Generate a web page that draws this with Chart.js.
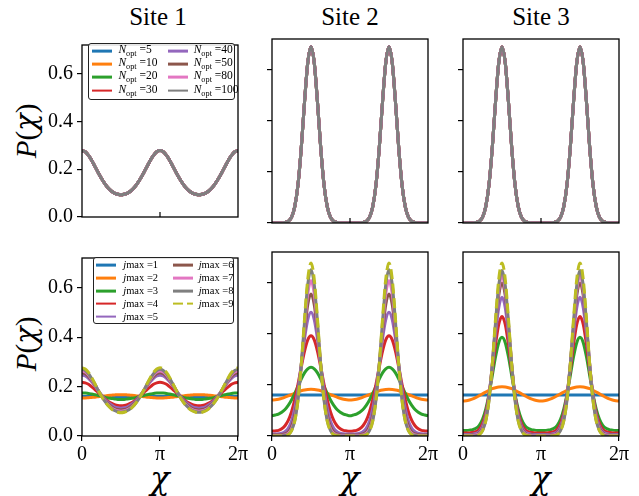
<!DOCTYPE html>
<html lang="en">
<head>
<meta charset="UTF-8">
<title>P(chi) per site</title>
<script src="https://cdn.jsdelivr.net/npm/chart.js"></script>
<style>
  body { margin: 0; background: #fff; }
  #fig { position: relative; width: 639px; height: 496px; overflow: hidden;
         font-family: "Liberation Serif", serif; color: #000; }
  #fig canvas { position: absolute; }
  .lbl { position: absolute; white-space: nowrap; line-height: 1; }
  .title { font-size: 25px; transform: translate(-50%, -50%); }
  .ylab { font-size: 29px; transform: translate(-50%, -50%) rotate(-90deg); }
  .xlab { font-size: 32px; transform: translate(-50%, -50%); }
  .greek { font-family: "DejaVu Serif", serif; font-style: italic; }
  .legend { position: absolute; box-sizing: border-box; border: 1.3px solid #222;
            border-radius: 3px; background: rgba(255,255,255,0.85); }
  .legend .sw { position: absolute; width: 20px; height: 2.8px; transform: translateY(-50%); }
  .legend .tx { position: absolute; white-space: nowrap; line-height: 1; transform: translateY(-50%); }
  .legend sub { font-size: 72%; vertical-align: -0.3em; }
</style>
</head>
<body>
<div id="fig">
  <div class="lbl title" style="left:158px; top:16px">Site 1</div>
  <div class="lbl title" style="left:350px; top:16px">Site 2</div>
  <div class="lbl title" style="left:541px; top:16px">Site 3</div>
  <div class="lbl ylab" style="left:26px; top:131px"><i>P</i>(<span class="greek">χ</span>)</div>
  <div class="lbl ylab" style="left:26px; top:344px"><i>P</i>(<span class="greek">χ</span>)</div>
  <div class="lbl xlab" style="left:160px; top:478px"><span class="greek">χ</span></div>
  <div class="lbl xlab" style="left:350px; top:478px"><span class="greek">χ</span></div>
  <div class="lbl xlab" style="left:541px; top:478px"><span class="greek">χ</span></div>
</div>

<script>
// x grid in units of pi/24, from 0 to 2pi
const chiGrid = [0,1,2,3,4,5,6,7,8,9,10,11,12,13,14,15,16,17,18,19,20,21,22,23,24,
                 25,26,27,28,29,30,31,32,33,34,35,36,37,38,39,40,41,42,43,44,45,46,47,48];
const xTickPos = [0, 24, 48];
const xTickLabels = ['0', 'π', '2π'];
const yTickValues = [0, 0.2, 0.4, 0.6];
const yTickLabels = ['0.0', '0.2', '0.4', '0.6'];

const nOptValues = [5, 10, 20, 30, 40, 50, 80, 100];
const jmaxValues = [1, 2, 3, 4, 5, 6, 7, 8, 9];
const lineColors = ['#1f77b4', '#ff7f0e', '#2ca02c', '#d62728', '#9467bd',
                    '#8c564b', '#e377c2', '#7f7f7f', '#bcbd22'];

// top row: converged P(chi), all N_opt curves lie on top of each other
const optSite1 = [.278,.273,.258,.237,.211,.185,.161,.140,.122,.109,.100,.095,.093,.095,.100,.109,.122,.140,.161,.185,.211,.237,.258,.273,.278,
                  .273,.258,.237,.211,.185,.161,.140,.122,.109,.100,.095,.093,.095,.100,.109,.122,.140,.161,.185,.211,.237,.258,.273,.278];
const optSite2 = [0,0,0,0,.002,.007,.022,.064,.150,.293,.472,.627,.690,.627,.472,.293,.150,.064,.022,.007,.002,0,0,0,0,
                  0,0,0,.002,.007,.022,.064,.150,.293,.472,.627,.690,.627,.472,.293,.150,.064,.022,.007,.002,0,0,0,0];
const optSite3 = [0,0,0,0,.002,.007,.022,.064,.150,.293,.472,.627,.689,.627,.472,.293,.150,.064,.022,.007,.002,0,0,0,0,
                  0,0,0,.002,.007,.022,.064,.150,.293,.472,.627,.689,.627,.472,.293,.150,.064,.022,.007,.002,0,0,0,0];

// bottom row: one curve per jmax (1..9)
const jmaxSite1 = [
  [.16,.16,.16,.16,.16,.16,.16,.16,.16,.16,.16,.16,.16,.16,.16,.16,.16,.16,.16,.16,.16,.16,.16,.16,.16,
   .16,.16,.16,.16,.16,.16,.16,.16,.16,.16,.16,.16,.16,.16,.16,.16,.16,.16,.16,.16,.16,.16,.16,.16],
  [.154,.154,.155,.156,.157,.159,.161,.162,.164,.165,.166,.167,.167,.167,.166,.165,.164,.162,.161,.159,.157,.156,.155,.154,.154,
   .154,.155,.156,.157,.159,.161,.162,.164,.165,.166,.167,.167,.167,.166,.165,.164,.162,.161,.159,.157,.156,.155,.154,.154],
  [.174,.174,.172,.170,.167,.164,.161,.157,.154,.152,.150,.148,.148,.148,.150,.152,.154,.157,.161,.164,.167,.170,.172,.174,.174,
   .174,.172,.170,.167,.164,.161,.157,.154,.152,.150,.148,.148,.148,.150,.152,.154,.157,.161,.164,.167,.170,.172,.174,.174],
  [.217,.215,.209,.199,.188,.175,.163,.151,.141,.133,.127,.123,.122,.123,.127,.133,.141,.151,.163,.175,.188,.199,.209,.215,.217,
   .215,.209,.199,.188,.175,.163,.151,.141,.133,.127,.123,.122,.123,.127,.133,.141,.151,.163,.175,.188,.199,.209,.215,.217],
  [.246,.243,.233,.219,.202,.184,.166,.150,.136,.126,.118,.114,.112,.114,.118,.126,.136,.150,.166,.184,.202,.219,.233,.243,.246,
   .243,.233,.219,.202,.184,.166,.150,.136,.126,.118,.114,.112,.114,.118,.126,.136,.150,.166,.184,.202,.219,.233,.243,.246],
  [.256,.252,.241,.225,.205,.184,.164,.146,.131,.120,.111,.107,.105,.107,.111,.120,.131,.146,.164,.184,.205,.225,.241,.252,.256,
   .252,.241,.225,.205,.184,.164,.146,.131,.120,.111,.107,.105,.107,.111,.120,.131,.146,.164,.184,.205,.225,.241,.252,.256],
  [.263,.259,.247,.228,.207,.184,.162,.143,.127,.115,.107,.102,.100,.102,.107,.115,.127,.143,.162,.184,.207,.228,.247,.259,.263,
   .259,.247,.228,.207,.184,.162,.143,.127,.115,.107,.102,.100,.102,.107,.115,.127,.143,.162,.184,.207,.228,.247,.259,.263],
  [.270,.265,.252,.232,.209,.184,.161,.141,.124,.112,.103,.098,.096,.098,.103,.112,.124,.141,.161,.184,.209,.232,.252,.265,.270,
   .265,.252,.232,.209,.184,.161,.141,.124,.112,.103,.098,.096,.098,.103,.112,.124,.141,.161,.184,.209,.232,.252,.265,.270],
  [.276,.271,.257,.236,.211,.185,.161,.140,.123,.110,.101,.096,.094,.096,.101,.110,.123,.140,.161,.185,.211,.236,.257,.271,.276,
   .271,.257,.236,.211,.185,.161,.140,.123,.110,.101,.096,.094,.096,.101,.110,.123,.140,.161,.185,.211,.236,.257,.271,.276]
];
const jmaxSite2 = [
  [.16,.16,.16,.16,.16,.16,.16,.16,.16,.16,.16,.16,.16,.16,.16,.16,.16,.16,.16,.16,.16,.16,.16,.16,.16,
   .16,.16,.16,.16,.16,.16,.16,.16,.16,.16,.16,.16,.16,.16,.16,.16,.16,.16,.16,.16,.16,.16,.16,.16],
  [.141,.142,.144,.147,.152,.157,.162,.167,.173,.177,.180,.182,.183,.182,.180,.177,.173,.167,.162,.157,.152,.147,.144,.142,.141,
   .142,.144,.147,.152,.157,.162,.167,.173,.177,.180,.182,.183,.182,.180,.177,.173,.167,.162,.157,.152,.147,.144,.142,.141],
  [.079,.082,.086,.093,.104,.120,.141,.167,.195,.223,.247,.263,.269,.263,.247,.223,.195,.167,.141,.120,.104,.093,.086,.082,.079,
   .082,.086,.093,.104,.120,.141,.167,.195,.223,.247,.263,.269,.263,.247,.223,.195,.167,.141,.120,.104,.093,.086,.082,.079],
  [.019,.020,.022,.028,.040,.061,.094,.142,.202,.269,.331,.376,.392,.376,.331,.269,.202,.142,.094,.061,.040,.028,.022,.020,.019,
   .020,.022,.028,.040,.061,.094,.142,.202,.269,.331,.376,.392,.376,.331,.269,.202,.142,.094,.061,.040,.028,.022,.020,.019],
  [.008,.008,.009,.011,.017,.030,.058,.108,.183,.279,.379,.455,.484,.455,.379,.279,.183,.108,.058,.030,.017,.011,.009,.008,.008,
   .008,.009,.011,.017,.030,.058,.108,.183,.279,.379,.455,.484,.455,.379,.279,.183,.108,.058,.030,.017,.011,.009,.008,.008],
  [.004,.004,.004,.005,.008,.016,.037,.081,.161,.276,.407,.514,.556,.514,.407,.276,.161,.081,.037,.016,.008,.005,.004,.004,.004,
   .004,.004,.005,.008,.016,.037,.081,.161,.276,.407,.514,.556,.514,.407,.276,.161,.081,.037,.016,.008,.005,.004,.004,.004],
  [.002,.002,.002,.002,.004,.010,.027,.067,.148,.274,.426,.556,.608,.556,.426,.274,.148,.067,.027,.010,.004,.002,.002,.002,.002,
   .002,.002,.002,.004,.010,.027,.067,.148,.274,.426,.556,.608,.556,.426,.274,.148,.067,.027,.010,.004,.002,.002,.002,.002],
  [0,0,0,0,.002,.006,.021,.060,.142,.276,.445,.592,.651,.592,.445,.276,.142,.060,.021,.006,.002,0,0,0,0,
   0,0,0,.002,.006,.021,.060,.142,.276,.445,.592,.651,.592,.445,.276,.142,.060,.021,.006,.002,0,0,0,0],
  [0,0,0,0,.001,.005,.020,.058,.140,.279,.457,.614,.677,.614,.457,.279,.140,.058,.020,.005,.001,0,0,0,0,
   0,0,0,.001,.005,.020,.058,.140,.279,.457,.614,.677,.614,.457,.279,.140,.058,.020,.005,.001,0,0,0,0]
];
const jmaxSite3 = [
  [.16,.16,.16,.16,.16,.16,.16,.16,.16,.16,.16,.16,.16,.16,.16,.16,.16,.16,.16,.16,.16,.16,.16,.16,.16,
   .16,.16,.16,.16,.16,.16,.16,.16,.16,.16,.16,.16,.16,.16,.16,.16,.16,.16,.16,.16,.16,.16,.16,.16],
  [.137,.138,.141,.145,.151,.158,.165,.172,.179,.185,.189,.192,.193,.192,.189,.185,.179,.172,.165,.158,.151,.145,.141,.138,.137,
   .138,.141,.145,.151,.158,.165,.172,.179,.185,.189,.192,.193,.192,.189,.185,.179,.172,.165,.158,.151,.145,.141,.138,.137],
  [.022,.022,.023,.025,.030,.042,.065,.105,.163,.235,.309,.365,.386,.365,.309,.235,.163,.105,.065,.042,.030,.025,.023,.022,.022,
   .022,.023,.025,.030,.042,.065,.105,.163,.235,.309,.365,.386,.365,.309,.235,.163,.105,.065,.042,.030,.025,.023,.022,.022],
  [.012,.012,.012,.014,.017,.027,.049,.091,.161,.255,.357,.437,.468,.437,.357,.255,.161,.091,.049,.027,.017,.014,.012,.012,.012,
   .012,.012,.014,.017,.027,.049,.091,.161,.255,.357,.437,.468,.437,.357,.255,.161,.091,.049,.027,.017,.014,.012,.012,.012],
  [.006,.006,.006,.007,.010,.017,.038,.081,.159,.271,.398,.502,.543,.502,.398,.271,.159,.081,.038,.017,.010,.007,.006,.006,.006,
   .006,.006,.007,.010,.017,.038,.081,.159,.271,.398,.502,.543,.502,.398,.271,.159,.081,.038,.017,.010,.007,.006,.006,.006],
  [.003,.003,.003,.004,.005,.012,.030,.072,.153,.277,.425,.550,.599,.550,.425,.277,.153,.072,.030,.012,.005,.004,.003,.003,.003,
   .003,.003,.004,.005,.012,.030,.072,.153,.277,.425,.550,.599,.550,.425,.277,.153,.072,.030,.012,.005,.004,.003,.003,.003],
  [.002,.002,.002,.002,.004,.009,.025,.065,.145,.275,.434,.572,.627,.572,.434,.275,.145,.065,.025,.009,.004,.002,.002,.002,.002,
   .002,.002,.002,.004,.009,.025,.065,.145,.275,.434,.572,.627,.572,.434,.275,.145,.065,.025,.009,.004,.002,.002,.002,.002],
  [0,0,0,0,.001,.006,.021,.060,.141,.275,.443,.589,.648,.589,.443,.275,.141,.060,.021,.006,.001,0,0,0,0,
   0,0,0,.001,.006,.021,.060,.141,.275,.443,.589,.648,.589,.443,.275,.141,.060,.021,.006,.001,0,0,0,0],
  [0,0,0,0,.001,.005,.020,.058,.140,.279,.457,.614,.677,.614,.457,.279,.140,.058,.020,.005,.001,0,0,0,0,
   0,0,0,.001,.005,.020,.058,.140,.279,.457,.614,.677,.614,.457,.279,.140,.058,.020,.005,.001,0,0,0,0]
];

// ---- layout (pixels) ----
const PLOT_LEFT = [82, 272, 463];
const PLOT_TOP = [39, 252];
const PLOT_W = 156, PLOT_H = 184;
const PAD_T = 10, PAD_R = 14;
const TICK_FONT = { family: "'Liberation Serif', serif", size: 20 };

Chart.defaults.font.family = "'Liberation Serif', serif";
Chart.defaults.color = '#000';

// black box around the axes, plus the small inner tick at pi on the top row
const axesFrame = {
  id: 'axesFrame',
  afterDraw(chart, args, opts) {
    const {ctx, chartArea: a} = chart;
    ctx.save();
    ctx.strokeStyle = '#000';
    ctx.lineWidth = 1.3;
    ctx.strokeRect(a.left, a.top, a.right - a.left, a.bottom - a.top);
    if (opts.innerTick) {
      const x = chart.scales.x.getPixelForValue(xTickPos[1]);
      ctx.lineWidth = 1.2;
      ctx.beginPath();
      ctx.moveTo(x, a.bottom);
      ctx.lineTo(x, a.bottom - 5);
      ctx.stroke();
    }
    ctx.restore();
  }
};

const fig = document.getElementById('fig');

function makePanel(row, col, series) {
  const yW = col === 0 ? 82 : 10;
  const xH = row === 0 ? 10 : 30;
  const canvas = document.createElement('canvas');
  canvas.width = yW + PLOT_W + PAD_R;
  canvas.height = PAD_T + PLOT_H + xH;
  canvas.style.left = (PLOT_LEFT[col] - yW) + 'px';
  canvas.style.top = (PLOT_TOP[row] - PAD_T) + 'px';
  fig.appendChild(canvas);

  const n = series.length;
  const datasets = series.map((vals, i) => ({
    data: vals.map((v, k) => ({x: chiGrid[k], y: v})),
    borderColor: lineColors[i],
    borderWidth: 3,
    borderDash: (row === 1 && i === 8) ? [10, 4.5] : [],
    pointRadius: 0,
    cubicInterpolationMode: 'monotone',
    fill: false,
    order: n - 1 - i
  }));

  new Chart(canvas, {
    type: 'line',
    data: { datasets },
    plugins: [axesFrame],
    options: {
      responsive: false,
      animation: false,
      events: [],
      devicePixelRatio: 1,
      layout: { padding: { top: PAD_T, right: PAD_R, left: 0, bottom: 0 } },
      plugins: {
        legend: { display: false },
        tooltip: { enabled: false },
        axesFrame: { innerTick: row === 0 }
      },
      scales: {
        x: {
          type: 'linear', min: 0, max: 48,
          afterBuildTicks: s => { s.ticks = xTickPos.map(v => ({value: v})); },
          afterFit: s => { s.height = xH; },
          ticks: {
            display: row === 1, autoSkip: false, maxRotation: 0, padding: 2,
            font: TICK_FONT, color: '#000',
            callback: v => xTickLabels[xTickPos.indexOf(v)]
          },
          grid: { drawOnChartArea: false, drawTicks: row === 1, tickLength: 5, color: '#000', lineWidth: 1.2 },
          border: { display: false }
        },
        y: {
          min: 0, max: 0.72,
          afterBuildTicks: s => { s.ticks = yTickValues.map(v => ({value: v})); },
          afterFit: s => { s.width = yW; },
          ticks: {
            display: col === 0, padding: 4,
            font: TICK_FONT, color: '#000',
            callback: v => yTickLabels[yTickValues.indexOf(v)]
          },
          grid: { drawOnChartArea: false, drawTicks: true, tickLength: 5, color: '#000', lineWidth: 1.2 },
          border: { display: false }
        }
      }
    }
  });
}

// legends (two columns, column-first like the original)
function buildLegend(box, labels, perCol) {
  const div = document.createElement('div');
  div.className = 'legend';
  div.style.left = box.left + 'px';
  div.style.top = box.top + 'px';
  div.style.width = box.w + 'px';
  div.style.height = box.h + 'px';
  div.style.fontSize = box.font + 'px';
  labels.forEach((html, i) => {
    const col = Math.floor(i / perCol);
    const rowY = box.row0 + (i % perCol) * box.step;
    const sw = document.createElement('div');
    sw.className = 'sw';
    sw.style.left = box.cols[col][0] + 'px';
    sw.style.top = rowY + 'px';
    if (box.dashLast && i === labels.length - 1) {
      sw.style.background = 'repeating-linear-gradient(90deg, ' + lineColors[i] + ' 0 9.5px, transparent 9.5px 13.7px)';
    } else {
      sw.style.background = lineColors[i];
    }
    const tx = document.createElement('div');
    tx.className = 'tx';
    tx.style.left = box.cols[col][1] + 'px';
    tx.style.top = rowY + 'px';
    tx.innerHTML = html;
    div.appendChild(sw);
    div.appendChild(tx);
  });
  fig.appendChild(div);
}

function drawAll() {
  const optSeries = [optSite1, optSite2, optSite3];
  const jmaxSeries = [jmaxSite1, jmaxSite2, jmaxSite3];
  for (let c = 0; c < 3; c++) {
    makePanel(0, c, nOptValues.map(() => optSeries[c]));
    makePanel(1, c, jmaxSeries[c]);
  }
  buildLegend({left: 88, top: 42.5, w: 147, h: 57, row0: 7.3, step: 13.3, font: 11.5,
               cols: [[3.4, 29.4], [78.7, 104.7]]},
              nOptValues.map(v => '<i>N</i><sub>opt</sub> =' + v), 4);
  buildLegend({left: 92.7, top: 256.7, w: 141.3, h: 67.3, row0: 7.3, step: 12.9, font: 10.5,
               cols: [[2.3, 29.6], [79, 105]], dashLast: true},
              jmaxValues.map(v => '<i>j</i>max =' + v), 5);
}

// make sure the serif face is ready before the canvases draw their tick labels
document.fonts.load("20px 'Liberation Serif'").then(drawAll, drawAll);
</script>
</body>
</html>
